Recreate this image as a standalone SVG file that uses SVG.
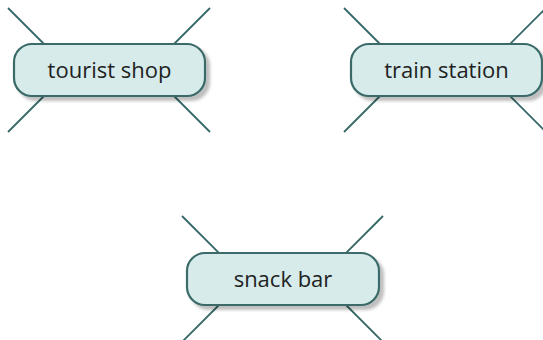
<svg xmlns="http://www.w3.org/2000/svg" width="543" height="340" viewBox="0 0 543 340">
<defs>
<style>
.n{fill:#d6ebea;stroke:#3a6b69;stroke-width:2.2;filter:url(#sh)}
.t{font-family:"Open Sans","Noto Sans",sans-serif;font-size:22px;fill:#222;text-anchor:middle}
.c line{stroke:#336866;stroke-width:1.8}
</style>
<filter id="sh" x="-10%" y="-20%" width="130%" height="150%">
<feDropShadow dx="4" dy="4" stdDeviation="1.5" flood-color="#000" flood-opacity="0.25"/>
</filter>
</defs>
<rect width="543" height="340" fill="#fff"/>
<g class="c" id="connectors">
<line x1="8" y1="8" x2="50" y2="50"/>
<line x1="210" y1="8" x2="168" y2="50"/>
<line x1="8" y1="132" x2="50" y2="90"/>
<line x1="210" y1="132" x2="168" y2="90"/>
<line x1="344" y1="8" x2="386" y2="50"/>
<line x1="545" y1="9" x2="504" y2="50"/>
<line x1="344" y1="132" x2="386" y2="90"/>
<line x1="545" y1="131" x2="504" y2="90"/>
<line x1="182" y1="216" x2="224" y2="258"/>
<line x1="383" y1="216" x2="341" y2="258"/>
<line x1="182" y1="342" x2="224" y2="300"/>
<line x1="383" y1="342" x2="341" y2="300"/>
</g>
<g id="node-tourist-shop">
<rect class="n" x="14" y="44" width="191" height="52" rx="18"/>
<text class="t" x="109.5" y="77.5">tourist shop</text>
</g>
<g id="node-train-station">
<rect class="n" x="351" y="44" width="191" height="52" rx="18"/>
<text class="t" x="446.5" y="77.5">train station</text>
</g>
<g id="node-snack-bar">
<rect class="n" x="187" y="253" width="192" height="52" rx="18"/>
<text class="t" x="283" y="286.5">snack bar</text>
</g>
</svg>
